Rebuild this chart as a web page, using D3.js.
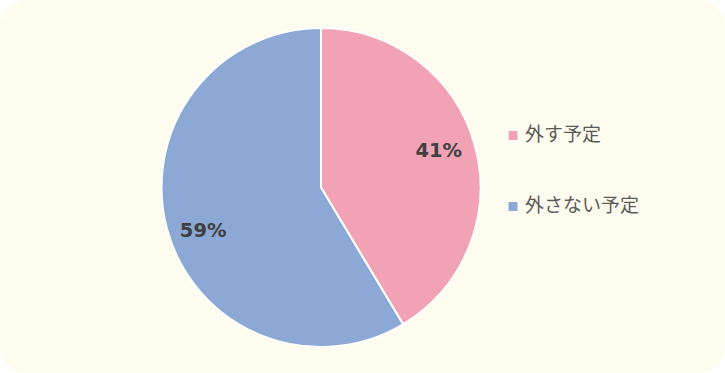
<!DOCTYPE html>
<html>
<head>
<meta charset="utf-8">
<script src="https://cdn.jsdelivr.net/npm/d3@7"></script>
<style>
  body { margin: 0; background: #fff; }
  svg { display: block; }
</style>
</head>
<body>
<svg width="725" height="373"></svg>
<script>
// data
var categories = ['外す予定', '外さない予定'];
var values = [41.4, 58.6];
var colors = ['#F1A3B5', '#8CA9D5'];

window.onload = function() {
    var svg = d3.select('svg');
    svg.append('rect')
	.attr('x', 0).attr('y', 0)
	.attr('width', 725).attr('height', 373)
	.attr('rx', 26).attr('ry', 26)
	.style('fill', '#FEFCEE');

    var cx = 321, cy = 187.5, r = 159.5;
    var pie = d3.pie().sort(null).value(function(d) { return d; });
    var arc = d3.arc().innerRadius(0).outerRadius(r);
    var labelArc = d3.arc().innerRadius(r * 0.78).outerRadius(r * 0.78);
    // excel's "best fit" puts the labels slightly anticlockwise
    var shift = -3.3 * Math.PI / 180;

    var g = svg.append('g').attr('transform', 'translate(' + cx + ',' + cy + ')');
    var arcs = pie(values);
    g.selectAll('path')
	.data(arcs)
	.enter().append('path')
	.attr('d', arc)
	.style('fill', function(d, i) { return colors[i]; })
	.style('stroke', '#fff')
	.style('stroke-width', 2);

    g.selectAll('text.pct')
	.data(arcs)
	.enter().append('text')
	.attr('class', 'pct')
	.attr('transform', function(d) {
	    var p = labelArc.centroid({startAngle: d.startAngle + shift, endAngle: d.endAngle + shift});
	    return 'translate(' + p + ')';
	})
	.attr('text-anchor', 'middle')
	.attr('dy', '0.5em')
	.style('font-family', 'DejaVu Sans, sans-serif')
	.style('font-weight', 'bold')
	.style('font-size', '19.5px')
	.style('fill', '#404040')
	.text(function(d) { return Math.round(d.data) + '%'; });

    // legend
    var legend = svg.append('g');
    var ly = d3.scaleBand().domain(categories).range([100, 242]);
    categories.forEach(function(c, i) {
	var y = ly(c) + ly.bandwidth() / 2;
	legend.append('rect')
	    .attr('x', 508).attr('y', y - 5)
	    .attr('width', 10).attr('height', 10)
	    .style('fill', colors[i])
	    .style('stroke', '#fff')
	    .style('stroke-width', 1);
	legend.append('text')
	    .attr('x', 525).attr('y', y - 1)
	    .attr('dy', '0.36em')
	    .style('font-family', '"Noto Sans CJK JP", sans-serif')
	    .style('font-size', '19px')
	    .style('fill', '#595959')
	    .text(c);
    });
};
</script>
</body>
</html>
